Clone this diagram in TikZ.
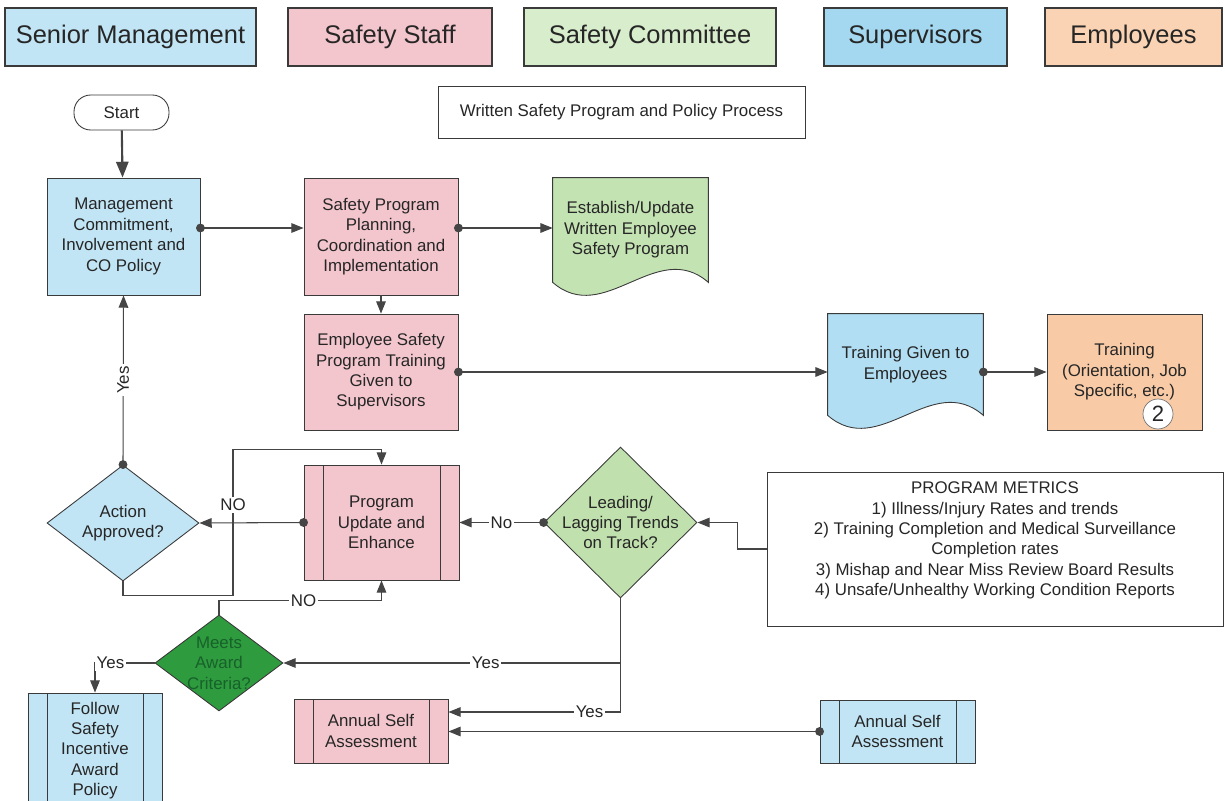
\documentclass[tikz,border=0pt]{standalone}
\usepackage{fontspec}
\setmainfont{Liberation Sans}
\usetikzlibrary{positioning, arrows.meta, calc, shapes.geometric, backgrounds}

\definecolor{edge}{HTML}{3A3A3A}
\definecolor{wire}{HTML}{454545}
\definecolor{ink}{HTML}{262626}
\definecolor{skyfill}{HTML}{C2E5F5}
\definecolor{skydeep}{HTML}{A3D8F0}
\definecolor{pinkfill}{HTML}{F3C6CD}
\definecolor{mintfill}{HTML}{D8EDCB}
\definecolor{mintdoc}{HTML}{C4E3B3}
\definecolor{mintdia}{HTML}{C0E0AE}
\definecolor{darkgreen}{HTML}{2E9B3E}
\definecolor{deepgreen}{HTML}{17612A}
\definecolor{peachfill}{HTML}{F8CBA6}
\definecolor{peachhead}{HTML}{F9D3B3}

\newcommand{\pxl}{0.02cm}

\begin{document}
\begin{tikzpicture}[
    x=0.02cm, y=-0.02cm,
    font=\fontsize{9.6}{11.6}\selectfont,
    % Block Styles
    head/.style={rectangle, draw=edge, line width=0.9pt, minimum height=58*\pxl, text=ink, font=\fontsize{14.5}{17}\selectfont},
    box/.style={rectangle, draw=edge, line width=0.5pt, align=center, text=ink, inner sep=2pt},
    proc/.style={box, path picture={
        \draw[edge, line width=0.5pt]
          ([xshift=19*\pxl]path picture bounding box.north west) -- ([xshift=19*\pxl]path picture bounding box.south west)
          ([xshift=-19*\pxl]path picture bounding box.north east) -- ([xshift=-19*\pxl]path picture bounding box.south east);}},
    decision/.style={diamond, draw=edge, line width=0.5pt, inner sep=0pt},
    dtext/.style={align=center, text=ink},
    doc/.style={rectangle, align=center, text=ink, minimum width=155*\pxl},
    docline/.style={draw=edge, line width=0.5pt},
    % Line & Arrow Styles
    line/.style={draw=wire, line width=0.6pt},
    arr/.style={line, -{Triangle[length=7pt, width=5.5pt]}},
    darr/.style={line, {Circle[length=5pt]}-{Triangle[length=7pt, width=5.5pt]}, shorten <=-2.5pt},
    lbl/.style={fill=white, inner sep=1pt, text=ink}
]
    \useasboundingbox (0,0) rectangle (1225,801);

    % Swimlane headers
    \node [head, fill=skyfill, minimum width=251*\pxl] (hsenior) at (130.5,37) {Senior Management};
    \node [head, fill=pinkfill, minimum width=204*\pxl] (hstaff) at (390,37) {Safety Staff};
    \node [head, fill=mintfill, minimum width=252*\pxl] (hcomm) at (650,37) {Safety Committee};
    \node [head, fill=skydeep, minimum width=183*\pxl] (hsuper) at (915.5,37) {Supervisors};
    \node [head, fill=peachhead, minimum width=177*\pxl] (hemp) at (1133.5,37) {Employees};

    \node [box, minimum width=367*\pxl, minimum height=52*\pxl] (title) at (621.5,112) {Written Safety Program and Policy Process};
    \node [box, rounded corners=9.5pt, minimum width=95*\pxl, minimum height=35*\pxl] (start) at (121.5,112.5) {Start};

    % Nodes
    \node [box, fill=skyfill, minimum width=153*\pxl, minimum height=117*\pxl] (commit) at (123.5,236.5) {Management\\Commitment,\\Involvement and\\CO Policy};
    \node [box, fill=pinkfill, minimum width=154*\pxl, minimum height=117*\pxl] (plan) at (381,236.5) {Safety Program\\Planning,\\Coordination and\\Implementation};
    \node [doc, minimum height=104*\pxl] (establish) at (630.5,230) {Establish/Update\\Written Employee\\Safety Program};
    \node [box, fill=pinkfill, minimum width=154*\pxl, minimum height=116*\pxl] (esptrain) at (381,372) {Employee Safety\\Program Training\\Given to\\Supervisors};
    \node [doc, minimum height=101*\pxl] (trgiven) at (905.5,364.5) {Training Given to\\Employees};
    \node [box, fill=peachfill, minimum width=155*\pxl, minimum height=116*\pxl] (empt) at (1124.5,372) {Training\\(Orientation, Job\\Specific, etc.)};
    \node [circle, draw=edge!70, fill=white, minimum size=30*\pxl, inner sep=0pt, text=ink, font=\fontsize{12.6}{13}\selectfont] (two) at (1158,414) {2};

    \node [proc, fill=pinkfill, minimum width=155*\pxl, minimum height=115*\pxl] (update) at (381.5,522.5) {Program\\Update and\\Enhance};
    \node [decision, fill=skyfill, minimum width=152*\pxl, minimum height=116*\pxl,
           label={[dtext]center:Action\\Approved?}] (approved) at (123,523) {};
    \node [decision, fill=mintdia, minimum width=153*\pxl, minimum height=151*\pxl,
           label={[dtext]center:Leading/\\Lagging Trends\\on Track?}] (lagging) at (620.5,522.5) {};
    \node [box, minimum width=456*\pxl, minimum height=154*\pxl,
           label={[dtext, yshift=0.17cm]center:PROGRAM METRICS\\1) Illness/Injury Rates and trends\\2) Training Completion and Medical Surveillance\\Completion rates\\3) Mishap and Near Miss Review Board Results\\4) Unsafe/Unhealthy Working Condition Reports}] (metrics) at (995,549) {};

    \node [decision, fill=darkgreen, minimum width=128*\pxl, minimum height=96*\pxl,
           label={[dtext, text=deepgreen]center:Meets\\Award\\Criteria?}] (award) at (219,663) {};
    \node [proc, fill=skyfill, minimum width=134*\pxl, minimum height=115*\pxl] (incentive) at (95,750.5) {Follow\\Safety\\Incentive\\Award\\Policy};
    \node [proc, fill=pinkfill, minimum width=154*\pxl, minimum height=64*\pxl] (selfstaff) at (371,731) {Annual Self\\Assessment};
    \node [proc, fill=skyfill, minimum width=155*\pxl, minimum height=63*\pxl] (selfsup) at (897.5,731.5) {Annual Self\\Assessment};

    % Document outlines with wavy bottoms
    \begin{scope}[on background layer]
      \path [docline, fill=mintdoc] (establish.north west) -- (establish.north east) -- (establish.south east)
        .. controls +(-51.7,-45) and +(51.7,45) .. (establish.south west) -- cycle;
      \path [docline, fill=skydeep!85!white] (trgiven.north west) -- (trgiven.north east) -- (trgiven.south east)
        .. controls +(-51.7,-45) and +(51.7,45) .. (trgiven.south west) -- cycle;
    \end{scope}

    % Connections / Flow
    \draw [line, line width=1.2pt, -{Triangle[length=9pt, width=7pt]}] (start) -- (commit);
    \coordinate (c1) at ($(commit.east)+(0,-8.5)$);
    \draw [darr] (c1) -- (c1 -| plan.west);
    \coordinate (p1) at ($(plan.east)+(0,-8.5)$);
    \draw [darr] (p1) -- (p1 -| establish.west);
    \draw [arr] (plan) -- (esptrain);
    \draw [darr] (esptrain.east) -- (esptrain.east -| trgiven.west);
    \draw [darr] (trgiven.east |- empt.west) -- (empt.west);

    % Review loop
    \draw [arr] (metrics.west) -- ++(-29,0) |- (lagging.east);
    \draw [darr] (lagging.west) -- node[lbl] {No} (update.east);
    \draw [darr] (update.west) -- (approved.east);
    \draw [darr] (approved.north) -- node[lbl, rotate=90] {Yes} (commit.south);
    \draw [arr] (approved.south) -- ++(0,14) -- ++(110,0) |- node[lbl, pos=0.31] {NO} ($(update.north)+(0,-15)$) -- (update.north);
    \draw [arr] (award.north) |- node[lbl, pos=0.76] {NO} ($(update.south)+(0,20)$) -- (update.south);

    % Award and assessment branches
    \draw [arr] (lagging.south) |- node[lbl, pos=0.70] {Yes} (award.east);
    \draw [arr] (lagging.south) |- node[lbl, pos=0.59] {Yes} ($(selfstaff.east)+(0,-19)$);
    \draw [darr] (selfsup.west) -- (selfsup.west -| selfstaff.east);
    \draw [arr] (award.west) -| node[lbl, pos=0.37] {Yes} (incentive.north);

\end{tikzpicture}
\end{document}
